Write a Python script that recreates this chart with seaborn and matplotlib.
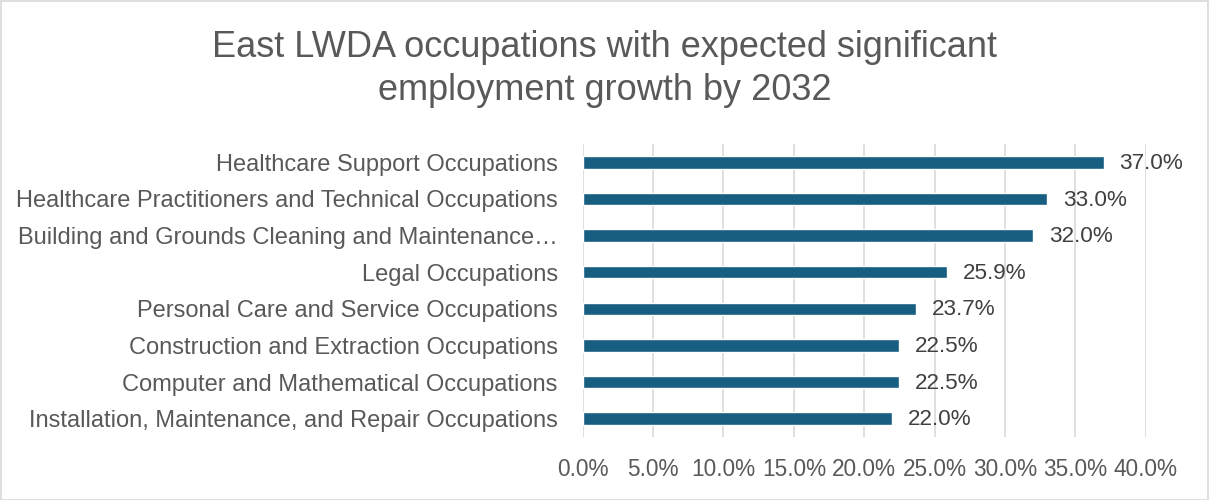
import matplotlib
matplotlib.use("Agg")
import matplotlib.pyplot as plt
import seaborn as sns
import pandas as pd
from matplotlib.ticker import FuncFormatter, MultipleLocator
from matplotlib.patches import Rectangle

occupations = [
    "Healthcare Support Occupations",
    "Healthcare Practitioners and Technical Occupations",
    "Building and Grounds Cleaning and Maintenance\u2026",
    "Legal Occupations",
    "Personal Care and Service Occupations",
    "Construction and Extraction Occupations",
    "Computer and Mathematical Occupations",
    "Installation, Maintenance, and Repair Occupations",
]
growth = [37.0, 33.0, 32.0, 25.9, 23.7, 22.5, 22.5, 22.0]

title = "East LWDA occupations with expected significant\nemployment growth by 2032"
bar_color = "#175E80"
text_color = "#595959"
value_color = "#404040"

sns.set_theme(style="white")
plt.rcParams["font.family"] = ["Liberation Sans", "DejaVu Sans"]

df = pd.DataFrame({"occupation": occupations, "growth": growth})

fig = plt.figure(figsize=(12.09, 5.0), dpi=100)
ax = fig.add_axes([0.482, 0.126, 0.4657, 0.586])

sns.barplot(data=df, x="growth", y="occupation", color=bar_color,
            width=0.34, ax=ax, saturation=1, orient="h")

ax.set_xlim(0, 40)
ax.set_ylim(7.5, -0.5)
ax.xaxis.set_major_locator(MultipleLocator(5))
ax.xaxis.set_major_formatter(FuncFormatter(lambda v, p: f"{v:.1f}%"))
ax.grid(axis="x", color="#D9D9D9", linewidth=1.2)
ax.set_axisbelow(True)
for s in ax.spines.values():
    s.set_visible(False)
ax.set_xlabel("")
ax.set_ylabel("")
ax.tick_params(axis="x", length=0, labelsize=16.3, colors=text_color, pad=15)
ax.tick_params(axis="y", length=0, labelsize=17, colors=text_color, pad=18)

for i, v in enumerate(growth):
    ax.text(v + 1.1, i + 0.03, f"{v:.1f}%", va="center", ha="left",
            fontsize=16.2, color=value_color)

fig.text(0.5, 0.862, title, ha="center", va="center", fontsize=26,
         color=text_color, linespacing=1.33)

fig.patches.append(Rectangle((0.0008, 0.001), 0.9984, 0.997, transform=fig.transFigure,
                             fill=False, edgecolor="#D9D9D9", linewidth=1.2))

fig.savefig("out.png", dpi=100, facecolor="white")
